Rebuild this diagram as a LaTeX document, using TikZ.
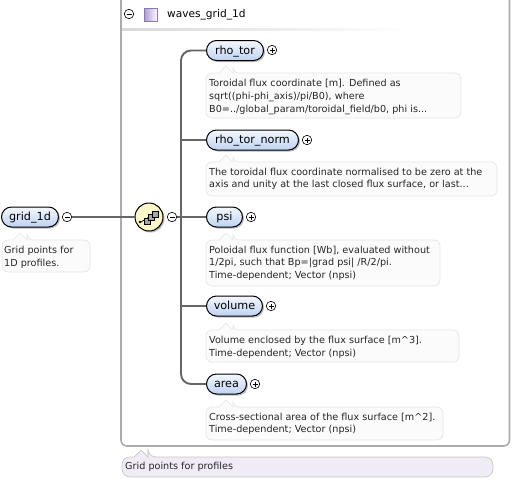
\documentclass[tikz,border=0pt]{standalone}
\usepackage{fontspec}
\setmainfont{DejaVu Sans}
\usetikzlibrary{calc,shadows}
\definecolor{pillt}{HTML}{F4F8FE}
\definecolor{pillb}{HTML}{BFD2F2}
\definecolor{wire}{HTML}{666666}
\definecolor{notefill}{HTML}{FBFBFB}
\definecolor{noteline}{HTML}{E6E6E6}
\definecolor{boxline}{HTML}{ABABAB}
\definecolor{seqfill}{HTML}{FBF6C8}
\definecolor{lilac}{HTML}{8E74BC}
\tikzset{
 x=1pt,y=-1pt,
 pill/.style={draw=black,line width=1pt,rounded corners=10pt,top color=pillt,bottom color=pillb,
   font=\fontsize{11.2}{12}\selectfont,inner sep=0pt,minimum height=20pt,anchor=west,text height=8.5pt,text depth=1.5pt,
   drop shadow={shadow xshift=1.5pt,shadow yshift=-1.5pt,fill=black!45,opacity=.6}},
 toggle/.style={circle,draw=black,line width=.6pt,fill=white,minimum size=9.5pt,inner sep=0pt},
 note/.style={draw=noteline,fill=notefill,line width=.7pt},
 notetext/.style={anchor=north west,inner sep=0pt,align=left,font=\fontsize{9.65}{12.8}\selectfont,text=black!85},
 wireline/.style={draw=wire,line width=1.9pt,rounded corners=10pt},
}
\newcommand{\minussign}[1]{\draw[line width=.6pt] ($(#1)+(-2.5,0)$) -- ($(#1)+(2.5,0)$);}
\newcommand{\plussign}[1]{\draw[line width=.6pt] ($(#1)+(-2.5,0)$) -- ($(#1)+(2.5,0)$) ($(#1)+(0,-2.5)$) -- ($(#1)+(0,2.5)$);}
\newcommand{\notebox}[5]{% x1,y1,x2,y2,pointer x
 \draw[note] [rounded corners=6pt] (#1+10,#2) -- (#1,#2) -- (#1,#4) -- (#3,#4) -- (#3,#2) -- (#5+7,#2) [sharp corners] -- (#5+7,#2) -- (#5,#2-7) -- (#5-7,#2) -- (#1+10,#2);}
\begin{document}
\begin{tikzpicture}
\useasboundingbox (0,0) rectangle (512,480);
% main box
\draw[boxline,line width=1.6pt,rounded corners=6pt] (121,-6) -- (121,446) -- (509.5,446) -- (509.5,-6);
\shade[left color=black!15,right color=white] (122,28) rectangle (410,30);
\node[toggle] (collapse) at (129,14) {};
\minussign{collapse}
\node[draw=lilac,line width=.8pt,left color=lilac!70,right color=white,minimum size=13pt,inner sep=0pt] (icon) at (151,15) {};
\node[anchor=west,inner sep=0pt,font=\fontsize{10.6}{12}\selectfont] (title) at (167,15) {waves\_grid\_1d};
% notes
\notebox{2}{240}{90}{272}{20}
\node[notetext] (n0) at (4,246) {Grid points for\\1D profiles.};
\notebox{206}{73}{461}{118}{226}
\node[notetext] (n1) at (209,79) {Toroidal flux coordinate [m]. Defined as\\sqrt((phi-phi\_axis)/pi/B0), where\\B0=../global\_param/toroidal\_field/b0, phi is...};
\notebox{206}{162}{497}{196}{226}
\node[notetext] (n2) at (209,167.5) {The toroidal flux coordinate normalised to be zero at the\\axis and unity at the last closed flux surface, or last...};
\notebox{206}{240}{440}{286}{226}
\node[notetext] (n3) at (209,245.5) {Poloidal flux function [Wb], evaluated without\\1/2pi, such that Bp=|grad psi| /R/2/pi.\\Time-dependent; Vector (npsi)};
\notebox{206}{330}{459}{362}{226}
\node[notetext] (n4) at (209,336) {Volume enclosed by the flux surface [m\textasciicircum 3].\\Time-dependent; Vector (npsi)};
\notebox{206}{407}{443}{440}{226}
\node[notetext] (n5) at (209,412.5) {Cross-sectional area of the flux surface [m\textasciicircum 2].\\Time-dependent; Vector (npsi)};
\draw[draw=black!22,fill=lilac!14,line width=.7pt] [rounded corners=8pt] (133,457) -- (122,457) -- (122,477) -- (493,477) -- (493,457) -- (148,457) [sharp corners] -- (148,457) -- (141,450) -- (134,457) -- (133,457);
\node[notetext,anchor=west] (n6) at (125,466.5) {Grid points for profiles};
% elements
\node[pill,minimum width=57pt] (grid) at (1,217) {grid\_1d};
\node[toggle] (gridt) at (67,217) {};
\node[circle,draw=black,line width=1pt,fill=seqfill,minimum size=28pt,inner sep=0pt,drop shadow={shadow xshift=1.5pt,shadow yshift=-1.5pt,fill=black!45,opacity=.6}] (seq) at (149,217) {};
\node[toggle] (seqt) at (172,217) {};
\node[pill,minimum width=57pt] (e1) at (206,50.5) {rho\_tor};
\node[toggle] (t1) at (272,50) {};
\node[pill,minimum width=92pt] (e2) at (206,140) {rho\_tor\_norm};
\node[toggle] (t2) at (307,140) {};
\node[pill,minimum width=36pt] (e3) at (206,217) {psi};
\node[toggle] (t3) at (251,217) {};
\node[pill,minimum width=56pt] (e4) at (206,306) {volume};
\node[toggle] (t4) at (271,306) {};
\node[pill,minimum width=40pt] (e5) at (206,384) {area};
\node[toggle] (t5) at (255,384) {};
% connectors
\path[wireline] (gridt) -- (seq);
\path[wireline] (seqt) -- (e3);
\path[wireline] (e1.west) -| (181,217) |- (e5.west);
\path[wireline] (e2.west) -- (181,140);
\path[wireline] (e4.west) -- (181,306);
\foreach \n in {gridt,seqt}{\minussign{\n}}
\foreach \n in {t1,t2,t3,t4,t5}{\plussign{\n}}
% sequence icon
\draw[line width=.7pt] (141,222) -- (157,212);
\fill (140,222) circle (1.3) (158,212) circle (1.3);
\foreach \p/\q in {144/218,148.5/214.5,152/211}{\draw[black,fill=black!35,line width=.5pt] (\p,\q) rectangle +(6,6);}
\end{tikzpicture}
\end{document}
